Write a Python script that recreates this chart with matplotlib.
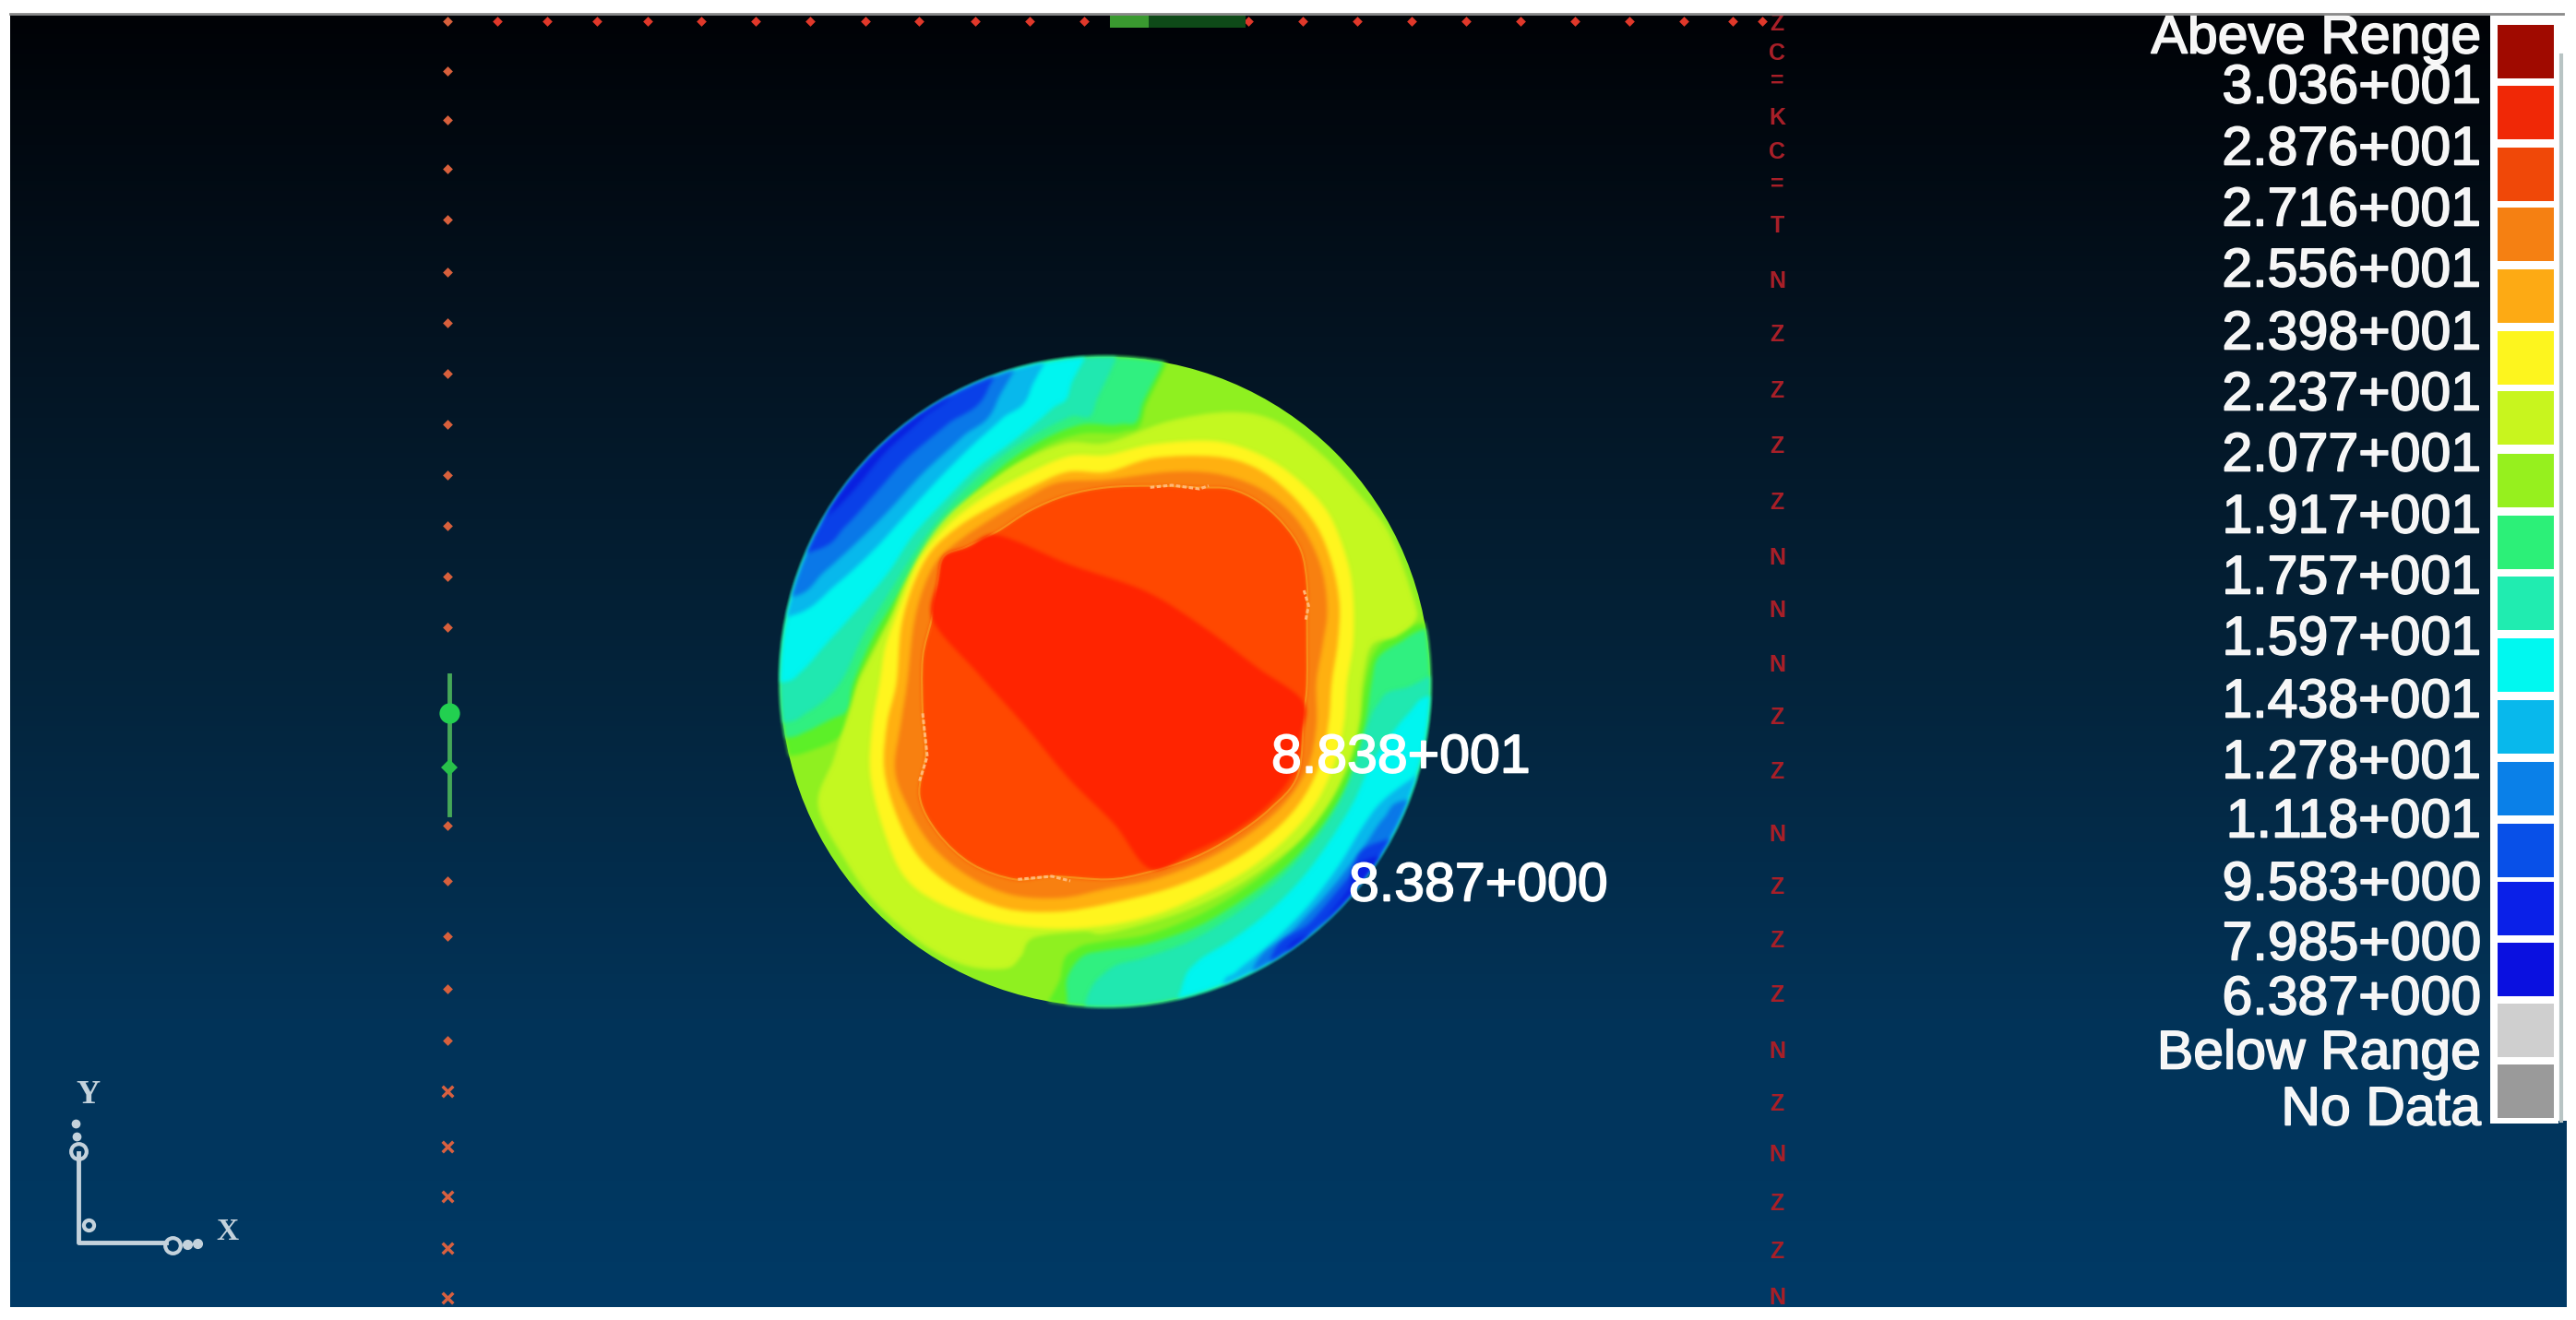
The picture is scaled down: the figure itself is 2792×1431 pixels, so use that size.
import numpy as np
import matplotlib
matplotlib.use("Agg")
import matplotlib.pyplot as plt
import matplotlib.patheffects as pe
from matplotlib.colors import LinearSegmentedColormap, to_rgb
from matplotlib.patches import Circle, PathPatch, Rectangle
from matplotlib.path import Path
from matplotlib.transforms import Affine2D

plt.rcParams['font.family'] = ['Liberation Sans', 'DejaVu Sans']

W, H = 2792, 1431

# legend
legendLabels = ["Abeve Renge", "3.036+001", "2.876+001", "2.716+001", "2.556+001", "2.398+001",
                "2.237+001", "2.077+001", "1.917+001", "1.757+001", "1.597+001", "1.438+001",
                "1.278+001", "1.118+001", "9.583+000", "7.985+000", "6.387+000", "Below Range", "No Data"]
legendLabelYs = [42, 96, 163, 229, 295, 363, 429, 495, 562, 628, 694, 762, 828, 892, 960, 1025, 1084, 1143, 1204]
swatchColors = ["#a00a00", "#f02806", "#f04808", "#f58012", "#fdaa14", "#fdf51e", "#c8f51e", "#96f01e", "#2cf078",
                "#20ecb0", "#00f8f0", "#08b8ec", "#0a80e8", "#0850e8", "#0a20e8", "#0a10e0", "#cfcfcf", "#9a9a9a"]
swatchTops = [27, 93, 160, 225, 292, 359, 424, 492, 559, 625, 692, 759, 826, 893, 956, 1022, 1088, 1154]

# background
bgStops = [0.0, 0.2, 0.5, 0.78, 1.0]
bgColors = ["#000206", "#03101c", "#04233a", "#023358", "#003a66"]

# contour regions, in coordinates of the 3x crops around the disc
lowColors = ["#5cf028", "#30f080", "#20e8b0", "#00f5f0", "#08b8ec", "#0a78e8", "#0a40e8", "#0a20e0"]
lowTopLeft = [
    [(1200, -200), (1200, 200), (1130, 265), (1000, 270), (880, 310), (770, 385), (670, 470), (575, 575), (490, 690), (410, 820), (340, 930), (275, 1060), (255, 1180), (205, 1260), (120, 1300), (30, 1320), (-200, 1320), (-200, -200)],
    [(1190, -200), (1190, 190), (1120, 240), (1000, 240), (880, 285), (760, 360), (660, 450), (560, 560), (470, 680), (390, 810), (320, 930), (255, 1080), (235, 1170), (180, 1200), (100, 1240), (30, 1260), (-200, 1260), (-200, -200)],
    [(1040, -200), (1040, 180), (960, 215), (850, 270), (730, 350), (630, 440), (530, 550), (445, 670), (370, 790), (290, 920), (225, 1060), (170, 1130), (100, 1180), (30, 1210), (-200, 1210), (-200, -200)],
    [(970, -200), (960, 120), (900, 190), (780, 290), (660, 380), (560, 480), (450, 600), (370, 720), (270, 840), (170, 950), (90, 1040), (20, 1080), (-200, 1080), (-200, -200)],
    [(860, -200), (830, 130), (740, 220), (640, 310), (530, 420), (420, 540), (320, 650), (200, 760), (60, 860), (-200, 860), (-200, -200)],
    [(790, -200), (720, 170), (610, 280), (480, 400), (370, 520), (270, 620), (160, 720), (60, 800), (-200, 800), (-200, -200)],
    [(740, -200), (690, 130), (560, 240), (430, 350), (330, 460), (230, 570), (130, 650), (-200, 700), (-200, -200)],
    [(600, -200), (600, 100), (480, 220), (360, 330), (260, 450), (180, 530), (100, 580), (-200, 600), (-200, -200)],
]
lowBottomRight = [
    [(930, 2400), (930, 2030), (980, 1945), (1080, 1920), (1210, 1900), (1370, 1840), (1510, 1760), (1640, 1660), (1740, 1550), (1820, 1430), (1870, 1320), (1900, 1205), (1920, 1080), (1950, 980), (2020, 920), (2140, 880), (2400, 880), (2400, 2400)],
    [(950, 2400), (950, 2130), (950, 2040), (1000, 1970), (1080, 1950), (1210, 1930), (1380, 1870), (1530, 1780), (1660, 1680), (1760, 1570), (1840, 1450), (1890, 1330), (1920, 1210), (1940, 1080), (1960, 1000), (2030, 950), (2140, 900), (2400, 900), (2400, 2400)],
    [(1000, 2400), (1010, 2120), (1090, 2010), (1200, 1975), (1350, 1920), (1500, 1830), (1640, 1720), (1750, 1600), (1830, 1480), (1880, 1370), (1920, 1240), (1960, 1150), (2040, 1100), (2400, 1090), (2400, 2400)],
    [(1260, 2400), (1320, 2080), (1370, 1990), (1480, 1920), (1600, 1830), (1710, 1720), (1800, 1600), (1880, 1470), (1930, 1360), (1980, 1280), (2060, 1180), (2140, 1120), (2400, 1120), (2400, 2400)],
    [(1400, 2400), (1450, 2080), (1500, 2020), (1610, 1930), (1730, 1810), (1830, 1680), (1910, 1550), (1970, 1470), (2060, 1400), (2140, 1360), (2400, 1360), (2400, 2400)],
    [(1480, 2400), (1550, 2020), (1680, 1890), (1800, 1760), (1910, 1620), (1980, 1520), (2060, 1460), (2400, 1450), (2400, 2400)],
    [(1540, 2400), (1610, 1980), (1740, 1860), (1860, 1720), (1960, 1600), (2400, 1560), (2400, 2400)],
    [(1600, 2400), (1650, 1980), (1760, 1880), (1860, 1760), (1940, 1650), (2400, 1620), (2400, 2400)],
]
ringColors = ["#c4f820", "#fff51e", "#ffb010", "#f88010", "#ff4800", "#ff2400"]
rings = [
    [(680, 440), (800, 360), (950, 300), (1080, 300), (1280, 230), (1480, 200), (1630, 230), (1780, 340), (1910, 480), (2000, 600), (2080, 820), (2080, 880), (2020, 930), (1940, 960), (1910, 1080), (1900, 1210), (1870, 1330), (1810, 1460), (1720, 1580), (1610, 1670), (1470, 1760), (1300, 1835), (1080, 1895), (1000, 1890), (840, 1910), (800, 1970), (750, 2010), (620, 2000), (480, 1930), (330, 1800), (230, 1660), (140, 1480), (190, 1330), (235, 1190), (270, 1080), (310, 1000), (370, 880), (420, 760), (490, 630), (570, 530)],
    [(660, 490), (780, 420), (950, 345), (1080, 340), (1230, 305), (1430, 295), (1580, 340), (1700, 420), (1800, 530), (1860, 680), (1880, 800), (1880, 950), (1860, 1080), (1850, 1210), (1820, 1340), (1760, 1470), (1670, 1580), (1550, 1680), (1410, 1760), (1250, 1830), (1080, 1870), (900, 1880), (720, 1860), (540, 1800), (420, 1710), (350, 1550), (310, 1380), (315, 1230), (340, 1080), (360, 960), (410, 820), (470, 680), (560, 570)],
    [(700, 510), (820, 450), (950, 395), (1080, 395), (1230, 350), (1430, 345), (1560, 380), (1670, 460), (1760, 570), (1810, 690), (1835, 820), (1830, 950), (1810, 1080), (1800, 1210), (1770, 1350), (1700, 1480), (1590, 1590), (1450, 1680), (1280, 1750), (1080, 1800), (920, 1825), (750, 1815), (590, 1750), (470, 1650), (395, 1510), (355, 1360), (365, 1210), (395, 1080), (410, 900), (450, 760), (510, 650), (600, 570)],
    [(700, 550), (800, 490), (920, 430), (1080, 420), (1280, 395), (1430, 400), (1560, 440), (1660, 510), (1730, 600), (1780, 720), (1795, 850), (1780, 960), (1760, 1080), (1760, 1220), (1730, 1360), (1650, 1480), (1530, 1580), (1390, 1660), (1230, 1720), (1080, 1750), (930, 1780), (770, 1770), (630, 1710), (510, 1610), (430, 1480), (390, 1360), (410, 1210), (430, 1080), (450, 900), (480, 780), (530, 680), (610, 610)],
    [(620, 640), (720, 590), (830, 520), (950, 470), (1080, 445), (1230, 440), (1380, 445), (1480, 450), (1570, 490), (1650, 560), (1710, 650), (1730, 760), (1730, 880), (1730, 1080), (1720, 1180), (1700, 1380), (1610, 1490), (1490, 1580), (1360, 1650), (1200, 1700), (1080, 1720), (900, 1710), (780, 1720), (640, 1670), (530, 1570), (470, 1450), (490, 1310), (480, 1180), (480, 1000), (510, 870), (530, 750), (550, 670)],
    [(725, 601), (958, 696), (1205, 783), (1394, 900), (1568, 1031), (1716, 1140), (1710, 1250), (1680, 1380), (1600, 1480), (1480, 1570), (1360, 1630), (1220, 1685), (1103, 1540), (957, 1394), (812, 1220), (660, 1050), (514, 878), (530, 750), (550, 670), (630, 640)],
]
plateauIndex = 4
speckles = [
    [(1220, 445), (1290, 438), (1380, 450), (1410, 440)],
    [(1720, 780), (1735, 830), (1725, 880)],
    [(480, 1180), (495, 1320), (470, 1400)],
    [(790, 1720), (900, 1710), (960, 1725)],
]

# nodes along the edges of the model
leftDotYs = [23, 77, 130, 183, 238, 295, 350, 405, 460, 515, 570, 625, 680, 895, 955, 1015, 1072, 1128]
leftCrossYs = [1183, 1243, 1297, 1353, 1407]
topDotXs = [539, 593, 647, 702, 760, 819, 878, 938, 996, 1057, 1116, 1175, 1353, 1412, 1471, 1530, 1589, 1648, 1707, 1766, 1825, 1878, 1910]
rightNodeYs = [26, 58, 88, 128, 165, 200, 245, 305, 363, 424, 484, 545, 605, 662, 721, 778, 837, 905, 962, 1020, 1079, 1140, 1197, 1252, 1305, 1357, 1407]
rightNodeLabels = ["Z", "C", "=", "K", "C", "=", "T", "N", "Z", "Z", "Z", "Z", "N", "N", "N", "Z", "Z", "N", "Z", "Z", "Z", "N", "Z", "N", "Z", "Z", "N"]


def SmoothClosedPath(points):
    # closed catmull-rom through the points
    pts = np.array(points, dtype=float)
    n = len(pts)
    verts = [pts[0]]
    codes = [Path.MOVETO]
    for i in range(n):
        p0, p1, p2, p3 = pts[i - 1], pts[i], pts[(i + 1) % n], pts[(i + 2) % n]
        verts += [p1 + (p2 - p0) / 6.0, p2 - (p3 - p1) / 6.0, p2]
        codes += [Path.CURVE4] * 3
    return Path(verts, codes)


def SoftEdge(color, pad=8, width=5):
    # blur only the alpha of a one coloured patch, the bands run into each other in the original
    rgb = to_rgb(color)
    kernel = np.ones(width) / width

    def Filter(img, dpi):
        alpha = np.pad(img[:, :, 3], pad)
        for i in range(2):
            alpha = np.apply_along_axis(np.convolve, 0, alpha, kernel, mode="same")
            alpha = np.apply_along_axis(np.convolve, 1, alpha, kernel, mode="same")
        out = np.zeros(alpha.shape + (4,))
        out[:, :, 0], out[:, :, 1], out[:, :, 2] = rgb
        out[:, :, 3] = alpha
        return out, -pad, -pad
    return Filter


fig = plt.figure(figsize=(W / 100, H / 100), dpi=100, facecolor="white")
ax = fig.add_axes([0, 0, 1, 1])
ax.axis("off")

bgMap = LinearSegmentedColormap.from_list("bg", list(zip(bgStops, bgColors)))
gradient = np.linspace(0, 1, 256).reshape(-1, 1)
ax.imshow(gradient, cmap=bgMap, extent=(11, 2782, 1417, 15), aspect="auto", zorder=0)
ax.set_xlim(0, W)
ax.set_ylim(H, 0)

# disc
crop = Affine2D().scale(1 / 3).translate(840, 380) + ax.transData
disc = Circle((1074, 1077), 1056, transform=crop, fc="#8ff020", ec="none", zorder=2)
ax.add_patch(disc)
for regions in (lowTopLeft, lowBottomRight):
    for color, region in zip(lowColors, regions):
        patch = PathPatch(SmoothClosedPath(region), transform=crop, fc=color, ec="none", zorder=3)
        ax.add_patch(patch)
        patch.set_clip_path(disc)
        patch.set_agg_filter(SoftEdge(color))
for i, (color, ring) in enumerate(zip(ringColors, rings)):
    patch = PathPatch(SmoothClosedPath(ring), transform=crop, fc=color, ec="none", zorder=4 + i * 0.1)
    ax.add_patch(patch)
    patch.set_clip_path(disc)
    patch.set_agg_filter(SoftEdge(color))
    if i == plateauIndex:
        ax.add_patch(PathPatch(SmoothClosedPath(ring), transform=crop, fc="none", ec="#f8a020", lw=1.5, alpha=0.7, zorder=4.45))
for speckle in speckles:
    xs, ys = zip(*speckle)
    ax.plot(xs, ys, color="#ffb878", lw=2.2, ls=(0, (1.5, 0.8)), transform=crop, zorder=5)

# nodes
ax.scatter([485] * len(leftDotYs), leftDotYs, s=30, marker="D", color="#d8603c", linewidths=0, zorder=2)
ax.scatter([485] * len(leftCrossYs), leftCrossYs, s=70, marker="x", color="#d86040", linewidths=2.5, zorder=2)
ax.scatter(topDotXs, [23] * len(topDotXs), s=30, marker="D", color="#e0382a", linewidths=0, zorder=2)
for y, label in zip(rightNodeYs, rightNodeLabels):
    ax.text(1926, y, label, color="#a81f28", fontsize=18, fontweight="bold", ha="center", va="center", zorder=2)

# green bits
ax.add_patch(Rectangle((1203, 15), 42, 15, fc="#3a9a30", ec="none", zorder=2))
ax.add_patch(Rectangle((1245, 16), 105, 14, fc="#0e4a18", ec="none", zorder=2))
ax.plot([487, 487], [732, 883], color="#45a858", lw=3.5, zorder=2)
ax.plot([487], [773], "o", ms=16, color="#22d050", mew=0, zorder=3)
ax.plot([487], [832], "D", ms=9, color="#28c04a", mew=0, zorder=3)

# triad
triadColor = "#c4d2dc"
ax.plot([85, 85, 180], [1250, 1347, 1347], color=triadColor, lw=3.5, zorder=2)
ax.plot([85], [1248], "o", ms=12, mfc="none", mec=triadColor, mew=3, zorder=3)
ax.plot([187], [1350], "o", ms=12, mfc="none", mec=triadColor, mew=3, zorder=3)
ax.plot([96], [1328], "o", ms=8, mfc="none", mec=triadColor, mew=3, zorder=3)
ax.plot([83, 82], [1232, 1218], "o", ms=6, color=triadColor, zorder=3)
ax.plot([203, 214], [1349, 1348], "o", ms=7, color=triadColor, zorder=3)
ax.text(95, 1188, "Y", color=triadColor, fontsize=26, fontweight="bold", family="Liberation Serif", ha="center", va="center", zorder=3)
ax.text(246, 1336, "X", color=triadColor, fontsize=24, fontweight="bold", family="Liberation Serif", ha="center", va="center", zorder=3)

stroke = [pe.withStroke(linewidth=1.2, foreground="white")]

# min and max labels
ax.text(1378, 822, "8.838+001", color="white", fontsize=42.5, ha="left", va="center", zorder=6, path_effects=stroke)
ax.text(1462, 961, "8.387+000", color="white", fontsize=42.5, ha="left", va="center", zorder=6, path_effects=stroke)

# legend
ax.add_patch(Rectangle((2699, 15), 74, 1203, fc="white", ec="none", zorder=2))
ax.add_patch(Rectangle((2773, 15), 19, 1200, fc="white", ec="none", zorder=2))
ax.plot([2776, 2776], [60, 1215], color="#b8c4c4", lw=3, zorder=2)
for top, color in zip(swatchTops, swatchColors):
    ax.add_patch(Rectangle((2707, top), 61, 58, fc=color, ec="none", zorder=3))
for y, label in zip(legendLabelYs, legendLabels):
    ax.text(2689, y, label, color="#f6f6f6", fontsize=42.5, ha="right", va="center", zorder=3, path_effects=stroke)

# page margin over the clipped first label
ax.add_patch(Rectangle((0, 0), W, 14, fc="white", ec="none", zorder=7))
ax.plot([11, 2778], [14.5, 14.5], color="#8a8a8a", lw=2, zorder=8)

fig.savefig("out.png", dpi=100, facecolor="white")
